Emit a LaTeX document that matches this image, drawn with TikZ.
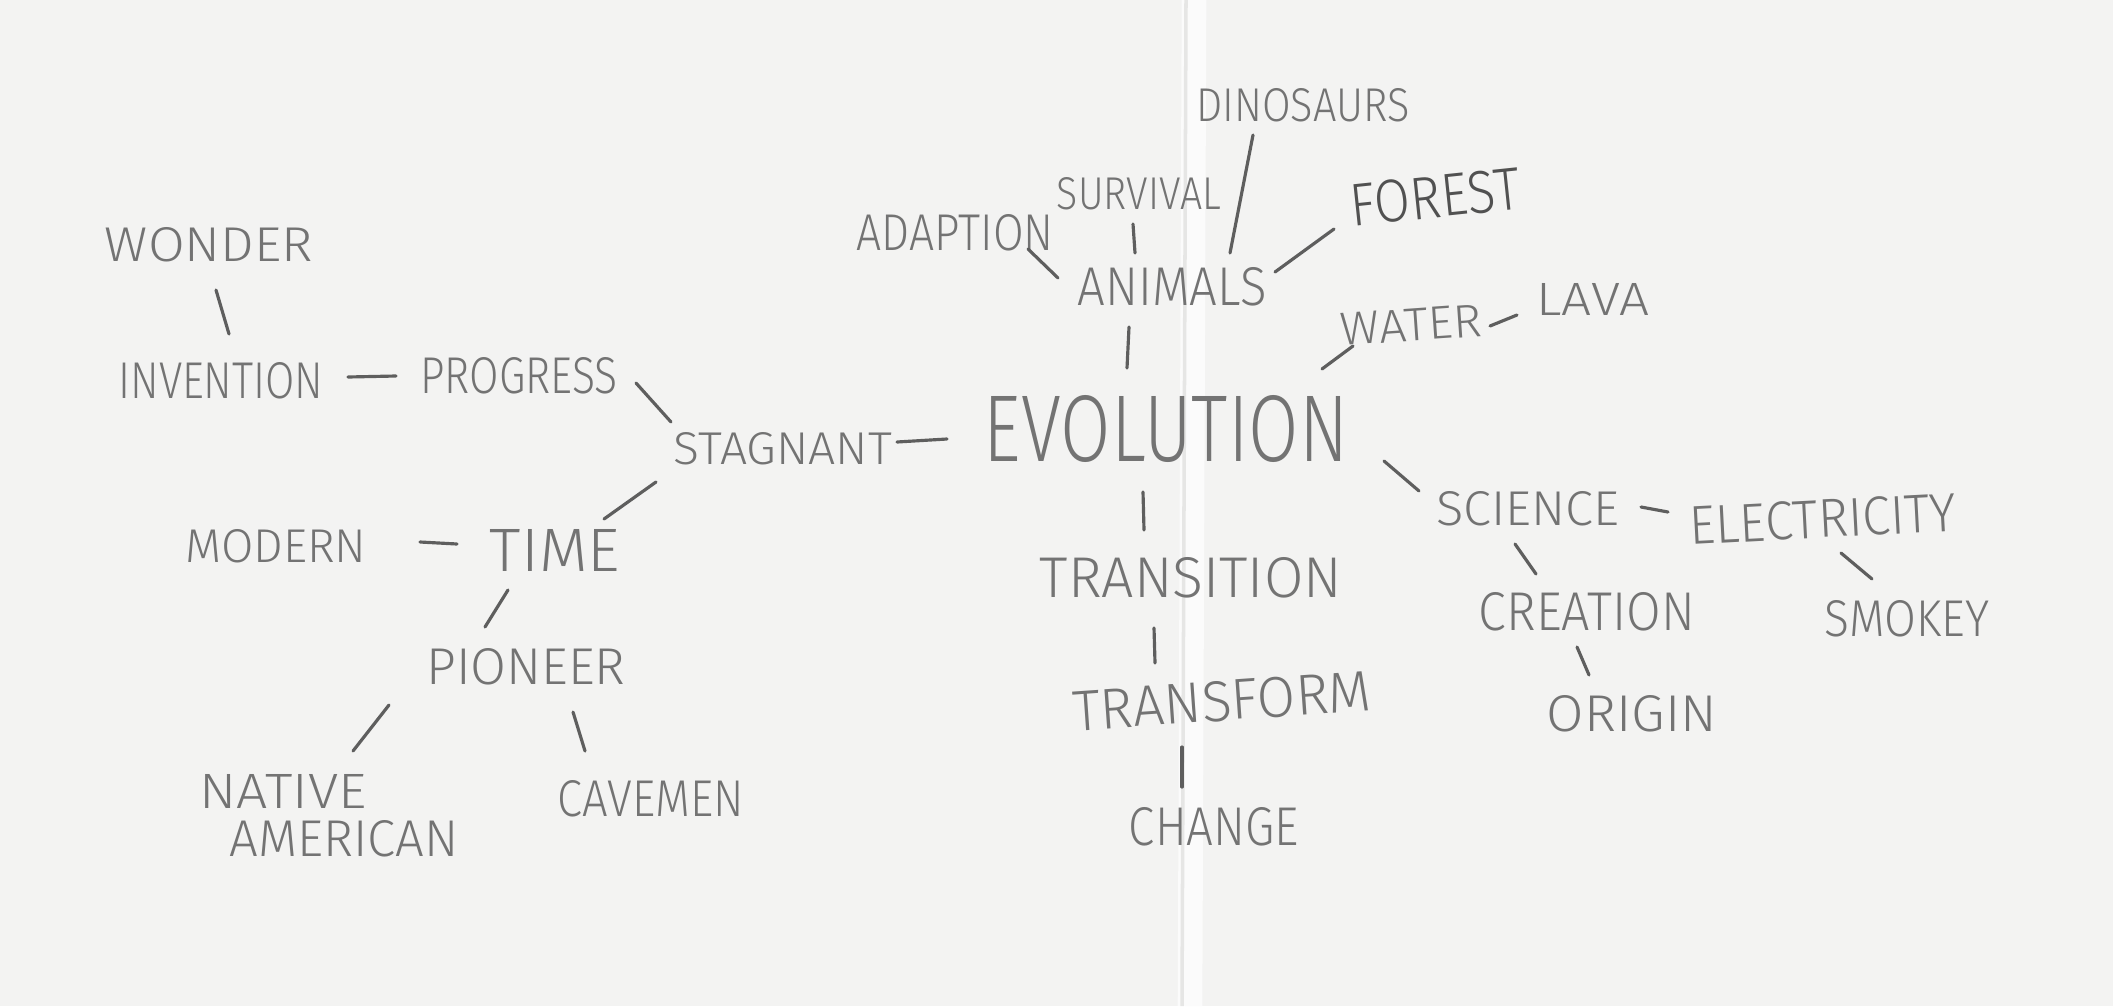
\documentclass[tikz,border=0pt]{standalone}
\usepackage{fontspec}
\usepackage{graphicx}
\newfontfamily\hand{Fira Sans Light}
\definecolor{pencil}{HTML}{737373}
\definecolor{lead}{HTML}{5E5E5E}
\definecolor{paper}{HTML}{F3F3F2}
\definecolor{fold}{HTML}{FBFBFB}
\definecolor{crease}{HTML}{E6E6E5}
\newcommand{\hw}[3]{\resizebox{#1cm}{#2cm}{\hand\fontsize{14}{16}\selectfont #3}}
\begin{document}
\begin{tikzpicture}[x=0.01cm,y=-0.01cm,
  word/.style={text=pencil, inner sep=0pt, outer sep=0pt},
  link/.style={draw=lead, line width=0.9pt, line cap=round}]
\fill[paper] (0,0) rectangle (2113,1006);
\useasboundingbox (0,0) rectangle (2113,1006);
\draw[fold, line width=7pt] (1194,0) -- (1190,1006);
\draw[crease, line width=1pt] (1186,0) -- (1182,1006);

% nodes
\node[word] (wonder) at (209,245) {\hw{2.08}{0.34}{WONDER}};
\node[word] (invention) at (221,381) {\hw{2.05}{0.36}{INVENTION}};
\node[word] (progress) at (519,376) {\hw{1.97}{0.36}{PROGRESS}};
\node[word] (stagnant) at (783,449) {\hw{2.18}{0.32}{STAGNANT}};
\node[word] (evolution) at (1166,429) {\hw{3.64}{0.66}{EVOLUTION}};
\node[word] (modern) at (276,546) {\hw{1.81}{0.33}{MODERN}};
\node[word] (time) at (555,550) {\hw{1.30}{0.42}{TIME}};
\node[word] (pioneer) at (526,667) {\hw{1.99}{0.36}{PIONEER}};
\node[word, align=left, font=\fontsize{10}{13.6}\selectfont] (native) at (329,816)
  {\hw{1.67}{0.34}{NATIVE}\\\hspace*{0.30cm}\hw{2.29}{0.36}{AMERICAN}};
\node[word] (cavemen) at (651,799) {\hw{1.86}{0.36}{CAVEMEN}};
\node[word] (adaption) at (955,233) {\hw{1.97}{0.36}{ADAPTION}};
\node[word] (survival) at (1139,194) {\hw{1.64}{0.32}{SURVIVAL}};
\node[word] (dinosaurs) at (1303,105) {\hw{2.13}{0.33}{DINOSAURS}};
\node[word, text=pencil!70!black, rotate=6] (forest) at (1435,197) {\hw{1.70}{0.42}{FOREST}};
\node[word] (animals) at (1172,287) {\hw{1.89}{0.38}{ANIMALS}};
\node[word, rotate=4] (water) at (1411,325) {\hw{1.41}{0.32}{WATER}};
\node[word] (lava) at (1593,299) {\hw{1.13}{0.32}{LAVA}};
\node[word] (science) at (1528,509) {\hw{1.83}{0.34}{SCIENCE}};
\node[word, rotate=3] (electricity) at (1823,519) {\hw{2.67}{0.38}{ELECTRICITY}};
\node[word] (smokey) at (1907,619) {\hw{1.64}{0.36}{SMOKEY}};
\node[word] (creation) at (1587,612) {\hw{2.16}{0.38}{CREATION}};
\node[word] (origin) at (1632,714) {\hw{1.70}{0.36}{ORIGIN}};
\node[word] (transition) at (1191,578) {\hw{3.02}{0.40}{TRANSITION}};
\node[word, rotate=4] (transform) at (1222,701) {\hw{2.99}{0.40}{TRANSFORM}};
\node[word] (change) at (1214,827) {\hw{1.70}{0.38}{CHANGE}};

% connectors
\draw[link] ([shift={(7,45)}]wonder.center) -- ([shift={(8,-47)}]invention.center);
\draw[link] ([shift={(127,-4)}]invention.center) -- ([shift={(-123,0)}]progress.center);
\draw[link] ([shift={(117,7)}]progress.center) -- ([shift={(-112,-27)}]stagnant.center);
\draw[link] ([shift={(114,-7)}]stagnant.center) -- ([shift={(-219,10)}]evolution.center);
\draw[link] ([shift={(-127,33)}]stagnant.center) -- ([shift={(49,-31)}]time.center);
\draw[link] ([shift={(144,-4)}]modern.center) -- ([shift={(-98,-6)}]time.center);
\draw[link] ([shift={(-47,40)}]time.center) -- ([shift={(-41,-40)}]pioneer.center);
\draw[link] ([shift={(-137,38)}]pioneer.center) -- ([shift={(24,-65)}]native.center);
\draw[link] ([shift={(47,45)}]pioneer.center) -- ([shift={(-66,-48)}]cavemen.center);
\draw[link] ([shift={(-39,-61)}]evolution.center) -- ([shift={(-43,40)}]animals.center);
\draw[link] ([shift={(-114,-9)}]animals.center) -- ([shift={(73,16)}]adaption.center);
\draw[link] ([shift={(-37,-34)}]animals.center) -- ([shift={(-6,30)}]survival.center);
\draw[link] ([shift={(58,-34)}]animals.center) -- ([shift={(-50,30)}]dinosaurs.center);
\draw[link] ([shift={(103,-15)}]animals.center) -- ([shift={(-101,32)}]forest.center);
\draw[link] ([shift={(156,-60)}]evolution.center) -- ([shift={(-58,21)}]water.center);
\draw[link] ([shift={(79,1)}]water.center) -- ([shift={(-76,16)}]lava.center);
\draw[link] ([shift={(218,32)}]evolution.center) -- ([shift={(-109,-18)}]science.center);
\draw[link] ([shift={(113,-2)}]science.center) -- ([shift={(-155,-7)}]electricity.center);
\draw[link] ([shift={(-13,35)}]science.center) -- ([shift={(-51,-38)}]creation.center);
\draw[link] ([shift={(18,34)}]electricity.center) -- ([shift={(-35,-40)}]smokey.center);
\draw[link] ([shift={(-10,35)}]creation.center) -- ([shift={(-43,-39)}]origin.center);
\draw[link] ([shift={(-23,63)}]evolution.center) -- ([shift={(-47,-48)}]transition.center);
\draw[link] ([shift={(-37,50)}]transition.center) -- ([shift={(-67,-38)}]transform.center);
\draw[link] ([shift={(-40,46)}]transform.center) -- ([shift={(-32,-40)}]change.center);
\end{tikzpicture}
\end{document}
